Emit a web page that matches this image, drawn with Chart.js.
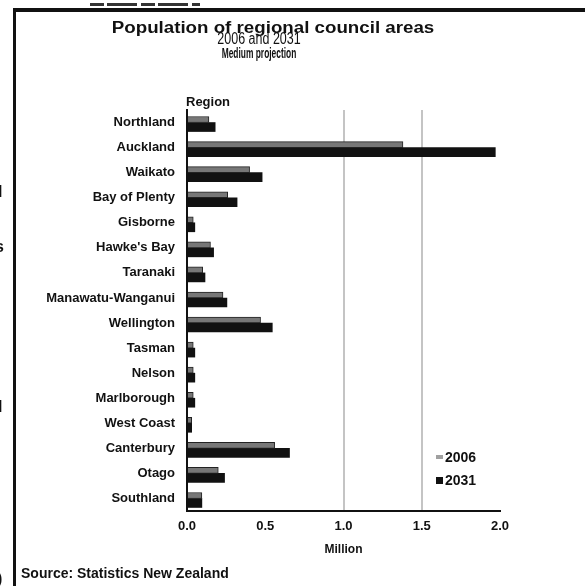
<!DOCTYPE html>
<html>
<head>
<meta charset="utf-8">
<script src="https://cdn.jsdelivr.net/npm/chart.js@4"></script>
<style>
html, body { margin: 0; padding: 0; background: #fff; }
#wrap { width: 585px; height: 586px; }
</style>
</head>
<body>
<div id="wrap"><canvas id="popChart" width="585" height="586"></canvas></div>
<script>
// values in millions
const regions = ['Northland', 'Auckland', 'Waikato', 'Bay of Plenty', 'Gisborne', "Hawke's Bay",
    'Taranaki', 'Manawatu-Wanganui', 'Wellington', 'Tasman', 'Nelson', 'Marlborough',
    'West Coast', 'Canterbury', 'Otago', 'Southland'];
const pop2006 = [0.14, 1.38, 0.40, 0.26, 0.04, 0.15, 0.10, 0.23, 0.47, 0.04, 0.04, 0.04, 0.03, 0.56, 0.20, 0.095];
const pop2031 = [0.18, 1.97, 0.48, 0.32, 0.05, 0.17, 0.115, 0.255, 0.545, 0.05, 0.05, 0.05, 0.03, 0.655, 0.24, 0.095];
const seriesNames = ['2006', '2031'];
const xTickValues = [0, 0.5, 1.0, 1.5, 2.0];

const FONT = '"Liberation Sans", Arial, sans-serif';
const INK = '#111';

function squeezeText(c, text, x, y, font, sx, align) {
    c.save();
    c.font = font;
    c.translate(x, y);
    c.scale(sx, 1);
    c.textAlign = align;
    c.textBaseline = 'alphabetic';
    c.fillStyle = INK;
    c.fillText(text, 0, 0);
    c.restore();
}

const sheet = {
    id: 'sheet',
    beforeDraw(chart) {
        const c = chart.ctx;
        c.save();
        c.fillStyle = '#fff';
        c.fillRect(0, 0, chart.width, chart.height);
        c.restore();
    },
    afterDraw(chart) {
        const c = chart.ctx;
        c.save();

        // scanned page frame
        c.fillStyle = INK;
        c.fillRect(13, 8, chart.width - 13, 4);
        c.fillRect(13, 8, 3, chart.height - 8);
        c.strokeStyle = '#333';
        c.lineWidth = 3;
        c.setLineDash([14, 3, 30, 4]);
        c.beginPath();
        c.moveTo(90, 4.5);
        c.lineTo(200, 4.5);
        c.stroke();
        c.setLineDash([]);

        // bits of the neighbouring page
        c.font = 'bold 16px ' + FONT;
        c.textAlign = 'left';
        c.fillText('l', -2, 197);
        c.fillText('s', -5, 252);
        c.fillText('l', -2, 412);
        c.fillText(')', -3, 584);

        // headings
        squeezeText(c, 'Population of regional council areas', 273, 32.5, 'bold 16px ' + FONT, 1.17, 'center');
        squeezeText(c, '2006 and 2031', 259, 44, '16px ' + FONT, 0.78, 'center');
        squeezeText(c, 'Medium projection', 259, 58, 'bold 14px ' + FONT, 0.6, 'center');
        squeezeText(c, 'Region', 186, 106, 'bold 13px ' + FONT, 1, 'left');

        // legend
        const ds = chart.data.datasets;
        c.fillStyle = '#a0a0a0';
        c.fillRect(436, 455, 7, 4);
        c.fillStyle = ds[1].backgroundColor;
        c.fillRect(436, 477, 7, 7);
        squeezeText(c, ds[0].label, 445, 462, 'bold 14px ' + FONT, 1, 'left');
        squeezeText(c, ds[1].label, 445, 485, 'bold 14px ' + FONT, 1, 'left');

        squeezeText(c, 'Source: Statistics New Zealand', 21, 578, 'bold 14px ' + FONT, 1, 'left');
        c.restore();
    }
};

const chart = new Chart(document.getElementById('popChart'), {
    type: 'bar',
    data: {
        labels: regions,
        datasets: [{
            label: seriesNames[0],
            data: pop2006,
            backgroundColor: '#777',
            borderColor: '#222',
            borderWidth: 1,
            borderSkipped: 'left',
            barThickness: 6
        }, {
            label: seriesNames[1],
            data: pop2031,
            backgroundColor: INK,
            barThickness: 9
        }]
    },
    options: {
        indexAxis: 'y',
        responsive: false,
        devicePixelRatio: 1,
        animation: false,
        layout: { padding: { top: 110, right: 85, left: 0, bottom: 0 } },
        plugins: {
            legend: { display: false },
            title: { display: false },
            tooltip: { enabled: false }
        },
        scales: {
            x: {
                type: 'linear',
                min: 0,
                max: 2,
                afterBuildTicks: (scale) => {
                    scale.ticks = xTickValues.map(v => ({ value: v }));
                },
                afterFit: (scale) => { scale.height = 75; },
                ticks: {
                    padding: 8,
                    color: INK,
                    font: { family: FONT, size: 13, weight: 'bold' },
                    callback: (v) => Number(v).toFixed(1)
                },
                grid: {
                    drawTicks: false,
                    color: (ctx) => (ctx.tick && (ctx.tick.value === 1 || ctx.tick.value === 1.5)) ? '#c4c4c4' : 'rgba(0,0,0,0)',
                    lineWidth: 2
                },
                border: { display: true, color: INK, width: 2 },
                title: {
                    display: true,
                    text: 'Million',
                    color: INK,
                    font: { family: FONT, size: 12, weight: 'bold' },
                    padding: { top: 4, bottom: 29 }
                }
            },
            y: {
                afterFit: (scale) => { scale.width = 187; },
                ticks: {
                    padding: 12,
                    color: INK,
                    autoSkip: false,
                    font: { family: FONT, size: 13, weight: 'bold' }
                },
                grid: { display: false, drawTicks: false },
                border: { display: true, color: INK, width: 2 }
            }
        }
    },
    plugins: [sheet]
});
</script>
</body>
</html>
